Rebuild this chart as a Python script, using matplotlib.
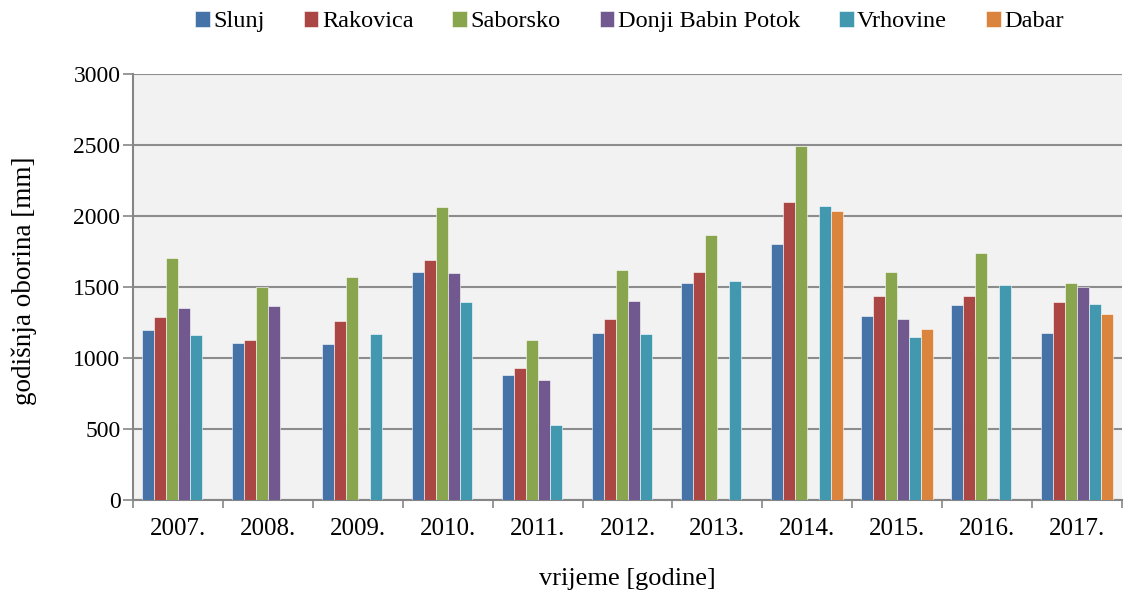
import matplotlib.pyplot as plt
import numpy as np

years = ["2007.", "2008.", "2009.", "2010.", "2011.", "2012.",
         "2013.", "2014.", "2015.", "2016.", "2017."]

nan = np.nan
slunj = [1201, 1107, 1103, 1606, 882, 1176, 1528, 1806, 1300, 1373, 1178]
rakovica = [1288, 1128, 1265, 1693, 931, 1279, 1608, 2097, 1436, 1436, 1399]
saborsko = [1707, 1502, 1575, 2062, 1131, 1620, 1871, 2497, 1608, 1742, 1533]
donji_babin_potok = [1352, 1371, nan, 1601, 846, 1404, nan, nan, 1277, nan, 1502]
vrhovine = [1161, nan, 1171, 1394, 531, 1173, 1547, 2074, 1150, 1514, 1385]
dabar = [nan, nan, nan, nan, nan, nan, nan, 2034, 1208, nan, 1310]

series = [
    ("Slunj", slunj, "#4572A7"),
    ("Rakovica", rakovica, "#AA4643"),
    ("Saborsko", saborsko, "#89A54E"),
    ("Donji Babin Potok", donji_babin_potok, "#71588F"),
    ("Vrhovine", vrhovine, "#4198AF"),
    ("Dabar", dabar, "#DB843D"),
]

plt.rcParams["font.family"] = ["Liberation Serif", "DejaVu Serif"]

fig = plt.figure(figsize=(11.24, 5.94), dpi=100)
ax = fig.add_axes([0.1183, 0.158, 0.880, 0.717])
ax.set_facecolor("#F2F2F2")

x = np.arange(len(years))
width = 0.8 / len(series)
handles = []
for i, (name, vals, color) in enumerate(series):
    offset = (i - (len(series) - 1) / 2) * width
    bars = ax.bar(x + offset, vals, width, color=color, edgecolor="#ffffff",
                  linewidth=0.4, label=name, zorder=3)
    handles.append(bars)

ax.set_xlim(-0.5, len(years) - 0.5)
ax.set_ylim(0, 3000)
ax.set_yticks(np.arange(0, 3001, 500))
ax.yaxis.grid(True, color="#8C8C8C", linewidth=1.5, zorder=1)

ax.set_xticks(x)
ax.set_xticklabels(years)
ax.set_xticks(np.arange(-0.5, len(years)), minor=True)
ax.tick_params(axis="x", which="major", length=0, labelsize=18, pad=13)
ax.tick_params(axis="x", which="minor", length=6, color="#868686", width=1.2)
ax.tick_params(axis="y", length=7, color="#868686", width=1.2, labelsize=17, pad=2)

for side in ["top", "right"]:
    ax.spines[side].set_visible(False)
for side in ["left", "bottom"]:
    ax.spines[side].set_color("#868686")
    ax.spines[side].set_linewidth(1.5)

ax.set_ylabel("godišnja oborina [mm]", fontsize=19.5)
ax.yaxis.set_label_coords(-0.097, 0.515)
ax.set_xlabel("vrijeme [godine]", fontsize=19, labelpad=20)

fig.legend(handles, [s[0] for s in series], loc="upper center",
           bbox_to_anchor=(0.56, 1.018), ncol=6, frameon=False, fontsize=17.5,
           handlelength=0.6, handleheight=0.6, handletextpad=0.15,
           columnspacing=1.6)

fig.savefig("out.png", dpi=100)
plt.close(fig)
